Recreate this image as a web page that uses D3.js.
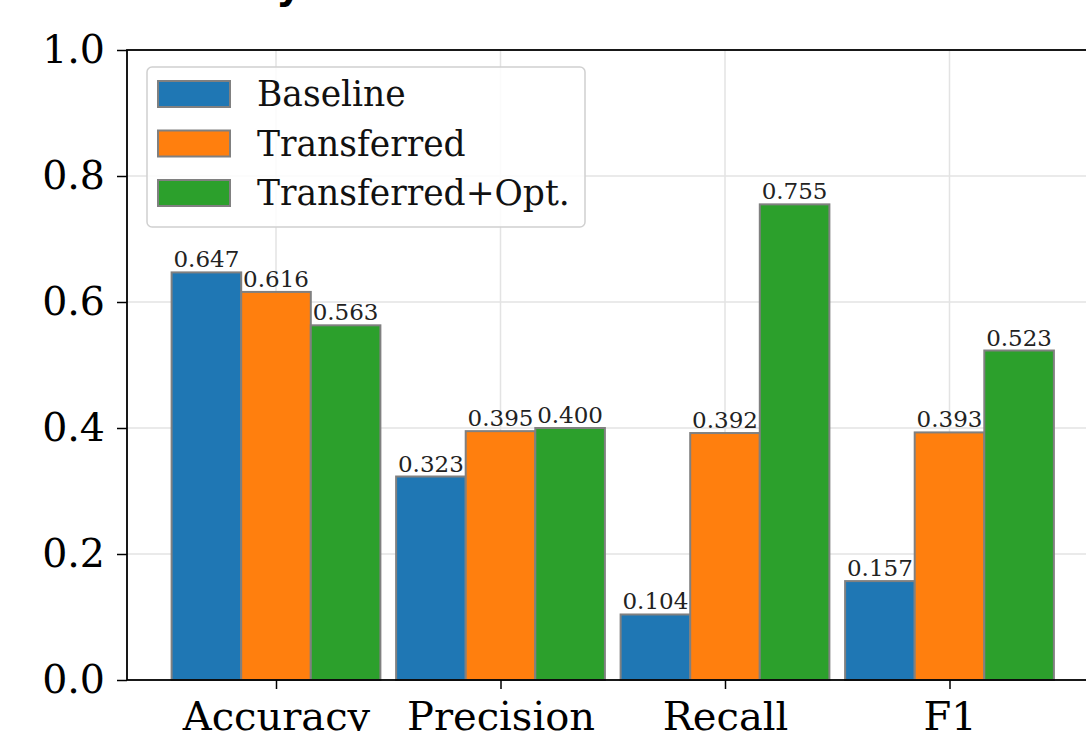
<!DOCTYPE html>
<html>
<head>
<meta charset="utf-8">
<script src="https://cdn.jsdelivr.net/npm/d3@7"></script>
<style>
  html, body { margin: 0; padding: 0; background: #fff; overflow: hidden; }
  svg { display: block; font-family: "DejaVu Serif", serif; }
</style>
</head>
<body>
<div id="chart"></div>
<script>
// metrics and the three runs
var categories = ['Accuracy', 'Precision', 'Recall', 'F1'];
var seriesNames = ['Baseline', 'Transferred', 'Transferred+Opt.'];
var baseline = [0.647, 0.323, 0.104, 0.157];
var transferred = [0.616, 0.395, 0.392, 0.393];
var transferredOpt = [0.563, 0.400, 0.755, 0.523];
var yTicks = [0.0, 0.2, 0.4, 0.6, 0.8, 1.0];
var colors = ['#1f77b4', '#ff7f0e', '#2ca02c'];

var series = [baseline, transferred, transferredOpt];

var width = 1086, height = 731;
var svg = d3.select('#chart').append('svg')
  .attr('width', width).attr('height', height);

// plot area (right side runs past the window, like the cropped figure)
var plotLeft = 127, plotTop = 50, plotBottom = 680;
var step = 224.5;

// x in category units: category i centred at i
var x = d3.scaleLinear().domain([0, 1]).range([276, 276 + step]);
var y = d3.scaleLinear().domain([0, 1]).range([plotBottom, plotTop]);
var barW = 0.31;

// cut-off title, only the descender shows
svg.append('text')
  .attr('x', 276).attr('y', -2)
  .attr('font-family', 'DejaVu Sans')
  .attr('font-weight', 'bold')
  .attr('font-size', 40)
  .attr('fill', '#000')
  .text('y');

// grid
var grid = svg.append('g');
grid.selectAll('line.h').data(yTicks.slice(1, -1)).enter().append('line')
  .attr('x1', plotLeft).attr('x2', width + 20)
  .attr('y1', d => y(d)).attr('y2', d => y(d))
  .attr('stroke', '#e3e3e3').attr('stroke-width', 1.5);
grid.selectAll('line.v').data(categories).enter().append('line')
  .attr('x1', (d, i) => x(i)).attr('x2', (d, i) => x(i))
  .attr('y1', plotTop).attr('y2', plotBottom)
  .attr('stroke', '#e3e3e3').attr('stroke-width', 1.5);

// bars
series.forEach(function(vals, s) {
  var g = svg.append('g');
  g.selectAll('rect').data(vals).enter().append('rect')
    .attr('x', (d, i) => x(i + (s - 1.5) * barW))
    .attr('y', d => y(d))
    .attr('width', x(barW) - x(0))
    .attr('height', d => y(0) - y(d))
    .attr('fill', colors[s])
    .attr('stroke', '#808080')
    .attr('stroke-width', 2);
  g.selectAll('text').data(vals).enter().append('text')
    .attr('x', (d, i) => x(i + (s - 1) * barW))
    .attr('y', d => y(d) - 5)
    .attr('text-anchor', 'middle')
    .attr('font-size', 23)
    .attr('fill', '#222')
    .text(d => d.toFixed(3));
});

// axes
var yAxis = d3.axisLeft(y).tickValues(yTicks).tickFormat(d3.format('.1f'))
  .tickSize(10).tickPadding(12);
var gy = svg.append('g').attr('transform', 'translate(' + plotLeft + ',0)').call(yAxis);
gy.select('.domain').remove();
gy.selectAll('line').attr('stroke', '#000').attr('stroke-width', 1.5);
gy.selectAll('text').attr('font-size', 39.5).attr('fill', '#000')
  .attr('font-family', 'DejaVu Serif');

var xAxis = d3.axisBottom(x).tickValues(d3.range(categories.length))
  .tickFormat(i => categories[i]).tickSize(9).tickPadding(13);
var gx = svg.append('g').attr('transform', 'translate(0,' + plotBottom + ')').call(xAxis);
gx.select('.domain').remove();
gx.selectAll('line').attr('stroke', '#000').attr('stroke-width', 1.5);
gx.selectAll('text').attr('font-size', 40).attr('fill', '#000')
  .attr('font-family', 'DejaVu Serif');

// spines
svg.append('rect')
  .attr('x', plotLeft).attr('y', plotTop)
  .attr('width', width + 40).attr('height', plotBottom - plotTop)
  .attr('fill', 'none').attr('stroke', '#000').attr('stroke-width', 1.8);

// legend
var legend = svg.append('g');
legend.append('rect')
  .attr('x', 147).attr('y', 67).attr('width', 438).attr('height', 160)
  .attr('rx', 5).attr('fill', 'rgba(255,255,255,0.85)')
  .attr('stroke', '#d0d0d0').attr('stroke-width', 1.5);
var items = legend.selectAll('g.item').data(seriesNames).enter().append('g')
  .attr('transform', (d, i) => 'translate(158,' + (81 + i * 49.5) + ')');
items.append('rect')
  .attr('width', 72).attr('height', 26)
  .attr('fill', (d, i) => colors[i])
  .attr('stroke', '#808080').attr('stroke-width', 2);
items.append('text')
  .attr('x', 99).attr('y', 13).attr('dy', '0.35em')
  .attr('font-size', 34.5).attr('fill', '#111')
  .text(d => d);
</script>
</body>
</html>
